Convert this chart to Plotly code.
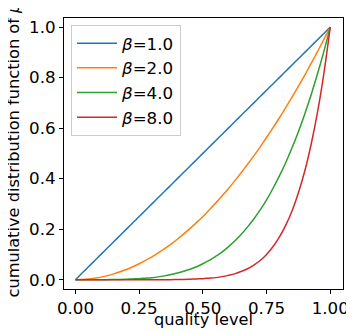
import plotly.graph_objects as go

# quality level samples and CDF values
quality = [0.0, 0.025, 0.05, 0.075, 0.1, 0.125, 0.15, 0.175, 0.2, 0.225,
           0.25, 0.275, 0.3, 0.325, 0.35, 0.375, 0.4, 0.425, 0.45, 0.475,
           0.5, 0.525, 0.55, 0.575, 0.6, 0.625, 0.65, 0.675, 0.7, 0.725,
           0.75, 0.775, 0.8, 0.825, 0.85, 0.875, 0.9, 0.925, 0.95, 0.975, 1.0]

cdf_b1 = [0.0, 0.025, 0.05, 0.075, 0.1, 0.125, 0.15, 0.175, 0.2, 0.225,
          0.25, 0.275, 0.3, 0.325, 0.35, 0.375, 0.4, 0.425, 0.45, 0.475,
          0.5, 0.525, 0.55, 0.575, 0.6, 0.625, 0.65, 0.675, 0.7, 0.725,
          0.75, 0.775, 0.8, 0.825, 0.85, 0.875, 0.9, 0.925, 0.95, 0.975, 1.0]

cdf_b2 = [0.0, 0.001, 0.003, 0.006, 0.01, 0.016, 0.023, 0.031, 0.04, 0.051,
          0.063, 0.076, 0.09, 0.106, 0.123, 0.141, 0.16, 0.181, 0.203, 0.226,
          0.25, 0.276, 0.303, 0.331, 0.36, 0.391, 0.423, 0.456, 0.49, 0.526,
          0.563, 0.601, 0.64, 0.681, 0.723, 0.766, 0.81, 0.856, 0.903, 0.951, 1.0]

cdf_b4 = [0.0, 0.0, 0.0, 0.0, 0.0, 0.0, 0.001, 0.001, 0.002, 0.003,
          0.004, 0.006, 0.008, 0.011, 0.015, 0.02, 0.026, 0.033, 0.041, 0.051,
          0.063, 0.076, 0.092, 0.109, 0.13, 0.153, 0.179, 0.208, 0.24, 0.276,
          0.316, 0.361, 0.41, 0.463, 0.522, 0.586, 0.656, 0.732, 0.815, 0.904, 1.0]

cdf_b8 = [0.0, 0.0, 0.0, 0.0, 0.0, 0.0, 0.0, 0.0, 0.0, 0.0,
          0.0, 0.0, 0.0, 0.0, 0.0, 0.0, 0.001, 0.001, 0.002, 0.003,
          0.004, 0.006, 0.008, 0.012, 0.017, 0.023, 0.032, 0.043, 0.058, 0.076,
          0.1, 0.13, 0.168, 0.215, 0.272, 0.344, 0.43, 0.536, 0.663, 0.817, 1.0]

betas = ["1.0", "2.0", "4.0", "8.0"]
colors = ["#1f77b4", "#ff7f0e", "#2ca02c", "#d62728"]

FS = 16.7
TITLE_FS = 16.2

fig = go.Figure()
for beta, ys, color in zip(betas, [cdf_b1, cdf_b2, cdf_b4, cdf_b8], colors):
    fig.add_trace(go.Scatter(x=quality, y=ys, mode="lines", name="<i>β</i>=" + beta,
                             line=dict(color=color, width=1.5, shape="spline", smoothing=0.8)))

axis_style = dict(showline=True, linecolor="black", linewidth=1, mirror=True,
                  ticks="outside", ticklen=4, tickcolor="black", showgrid=False,
                  zeroline=False, automargin=False,
                  tickfont=dict(size=FS, color="black"))

fig.update_xaxes(range=[-0.045, 1.05], tickvals=[0, 0.25, 0.5, 0.75, 1.0],
                 ticktext=["0.00", "0.25", "0.50", "0.75", "1.00"], **axis_style)
fig.update_yaxes(range=[-0.037, 1.036], tickvals=[0, 0.2, 0.4, 0.6, 0.8, 1.0],
                 ticktext=["0.0", "0.2", "0.4", "0.6", "0.8", "1.0"], **axis_style)

# axis titles as annotations so they sit where the reference has them
fig.add_annotation(text="quality level", xref="paper", yref="paper", x=0.5, y=0,
                   xanchor="center", yanchor="middle", yshift=-30, showarrow=False,
                   font=dict(size=TITLE_FS, color="black"))
fig.add_annotation(text="cumulative distribution function of <i>μ</i>", xref="paper",
                   yref="paper", x=0, y=0.5, xanchor="center", yanchor="middle",
                   xshift=-51, yshift=3, textangle=-90, showarrow=False,
                   font=dict(size=TITLE_FS, color="black"))

# page body adds an 8px offset, so the figure is 8px smaller on each axis
fig.update_layout(
    width=346, height=326,
    margin=dict(l=56, r=11, t=10, b=45),
    paper_bgcolor="white", plot_bgcolor="white",
    font=dict(family="DejaVu Sans", size=FS, color="black"),
    legend=dict(x=0.025, y=0.975, xanchor="left", yanchor="top",
                bgcolor="rgba(255,255,255,0.8)", bordercolor="#cccccc", borderwidth=1,
                font=dict(size=FS), itemwidth=40, tracegroupgap=0),
)

fig.write_html("out.html")
